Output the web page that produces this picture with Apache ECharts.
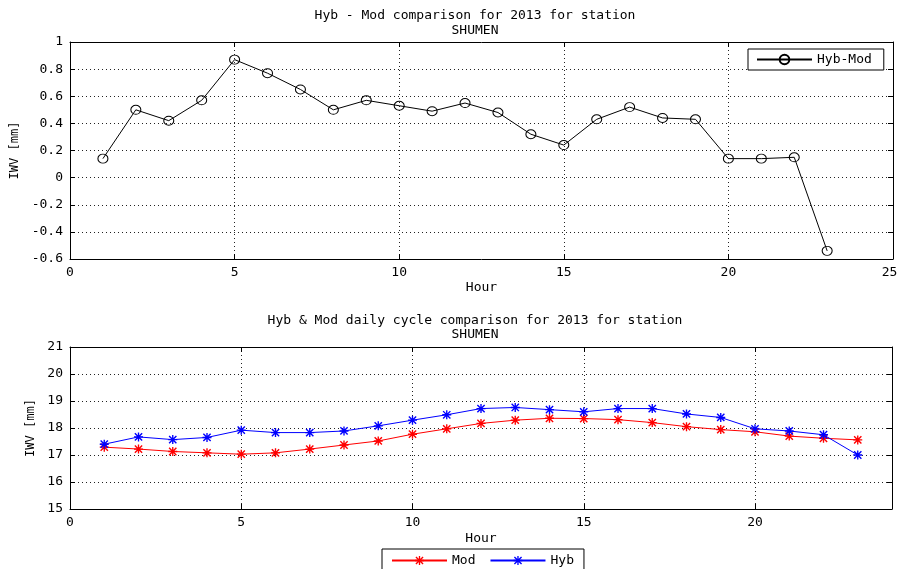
<!DOCTYPE html>
<html>
<head>
<meta charset="utf-8">
<script src="https://cdn.jsdelivr.net/npm/echarts@6/dist/echarts.min.js"></script>
<style>
  html, body { margin: 0; padding: 0; background: #fff; }
  #chart { width: 898px; height: 569px; }
</style>
</head>
<body>
<div id="chart"></div>
<script>
// ---- data ----
const hours = [1,2,3,4,5,6,7,8,9,10,11,12,13,14,15,16,17,18,19,20,21,22,23];
const hybMinusMod = [0.14,0.50,0.42,0.57,0.87,0.77,0.65,0.50,0.57,0.53,0.49,0.55,0.48,0.32,0.24,0.43,0.52,0.44,0.43,0.14,0.14,0.15,-0.54];
const modValues = [17.29,17.22,17.13,17.08,17.03,17.08,17.22,17.37,17.52,17.77,17.97,18.17,18.29,18.36,18.35,18.31,18.20,18.05,17.94,17.86,17.70,17.62,17.56];
const hybValues = [17.40,17.67,17.57,17.65,17.92,17.83,17.83,17.89,18.08,18.29,18.49,18.72,18.76,18.68,18.60,18.72,18.72,18.52,18.39,17.97,17.89,17.75,17.00];
const topTitle = 'Hyb - Mod comparison for 2013 for station\nSHUMEN';
const bottomTitle = 'Hyb & Mod daily cycle comparison for 2013 for station\nSHUMEN';
const xName = 'Hour';
const yName = 'IWV [mm]';

// ---- styling ----
const FONT = 'DejaVu Sans Mono';
const ASTERISK = 'path://M4.25,0L5.75,0L5.75,10L4.25,10Z M0,4.25L10,4.25L10,5.75L0,5.75Z M1.5,0.4L9.6,8.5L8.5,9.6L0.4,1.5Z M8.5,0.4L9.6,1.5L1.5,9.6L0.4,8.5Z';
const pair = (xs, ys) => xs.map((x, i) => [x, ys[i]]);

const gridLine = { show: true, lineStyle: { color: '#222', width: 1, type: [1, 3] } };
const axisLine = { show: true, onZero: false, lineStyle: { color: '#000', width: 1 } };
const tick = { show: true, inside: true, length: 5, lineStyle: { color: '#000' } };
const label = { color: '#000', fontFamily: FONT, fontSize: 13, margin: 7 };

function mainX(gridIndex, max, nameGap) {
  return {
    type: 'value', gridIndex, min: 0, max, interval: 5, position: 'bottom',
    name: xName, nameLocation: 'middle', nameGap,
    nameTextStyle: { color: '#000', fontFamily: FONT, fontSize: 13 },
    axisLine, axisTick: tick, splitLine: gridLine,
    axisLabel: Object.assign({
      showMaxLabel: max % 5 === 0,
      // the last label sits just inside the page edge, as in the reference
      formatter: v => (v === max ? '{m|' + v + '}' : String(v)),
      rich: { m: { fontFamily: FONT, fontSize: 13, color: '#000', padding: [0, 7, 0, 0] } }
    }, label)
  };
}
function mirrorX(gridIndex, max) {
  return {
    type: 'value', gridIndex, min: 0, max, interval: 5, position: 'top',
    axisLine, axisTick: tick, splitLine: { show: false }, axisLabel: { show: false }
  };
}
function mainY(gridIndex, min, max, interval, nameGap) {
  return {
    type: 'value', gridIndex, min, max, interval, position: 'left',
    name: yName, nameLocation: 'middle', nameGap,
    nameTextStyle: { color: '#000', fontFamily: FONT, fontSize: 12 },
    axisLine, axisTick: tick, splitLine: gridLine, axisLabel: label
  };
}
function mirrorY(gridIndex, min, max, interval) {
  return {
    type: 'value', gridIndex, min, max, interval, position: 'right',
    axisLine, axisTick: tick, splitLine: { show: false }, axisLabel: { show: false }
  };
}

const chart = echarts.init(document.getElementById('chart'), null, { renderer: 'canvas' });
chart.setOption({
  animation: false,
  backgroundColor: '#fff',
  textStyle: { fontFamily: FONT },
  title: [
    { text: topTitle, left: 475, top: 8, textAlign: 'center', padding: 0,
      textStyle: { fontFamily: FONT, fontSize: 13, fontWeight: 'normal', color: '#000', lineHeight: 15 } },
    { text: bottomTitle, left: 475, top: 314, textAlign: 'center', padding: 0,
      textStyle: { fontFamily: FONT, fontSize: 13, fontWeight: 'normal', color: '#000', lineHeight: 14 } }
  ],
  grid: [
    { left: 70, top: 42, width: 823, height: 217, containLabel: false, outerBoundsMode: 'none' },
    { left: 70, top: 347, width: 822, height: 162, containLabel: false, outerBoundsMode: 'none' }
  ],
  xAxis: [
    mainX(0, 25, 22),
    mirrorX(0, 25),
    mainX(1, 24, 23),
    mirrorX(1, 24)
  ],
  yAxis: [
    mainY(0, -0.6, 1, 0.2, 48),
    mirrorY(0, -0.6, 1, 0.2),
    mainY(1, 15, 21, 1, 31),
    mirrorY(1, 15, 21, 1)
  ],
  legend: [
    { data: ['Hyb-Mod'], left: 748, top: 49, orient: 'horizontal',
      padding: [4, 12, 4, 8], itemWidth: 55, itemHeight: 12, itemGap: 10,
      borderColor: '#000', borderWidth: 1, backgroundColor: '#fff',
      textStyle: { fontFamily: FONT, fontSize: 13, color: '#000' } },
    { data: ['Mod', 'Hyb'], left: 382, top: 549, orient: 'horizontal',
      padding: [5, 10, 5, 9], itemWidth: 55, itemHeight: 11, itemGap: 14,
      borderColor: '#000', borderWidth: 1, backgroundColor: '#fff',
      textStyle: { fontFamily: FONT, fontSize: 13, color: '#000' } }
  ],
  series: [
    { name: 'Hyb-Mod', type: 'line', xAxisIndex: 0, yAxisIndex: 0,
      data: pair(hours, hybMinusMod),
      symbol: 'circle', symbolSize: [10, 9],
      lineStyle: { color: '#000', width: 1 },
      itemStyle: { color: 'rgba(255,255,255,0)', borderColor: '#000', borderWidth: 1 } },
    { name: 'Mod', type: 'line', xAxisIndex: 2, yAxisIndex: 2,
      data: pair(hours, modValues),
      symbol: ASTERISK, symbolSize: 9,
      lineStyle: { color: '#ff0000', width: 1 },
      itemStyle: { color: '#ff0000' } },
    { name: 'Hyb', type: 'line', xAxisIndex: 2, yAxisIndex: 2,
      data: pair(hours, hybValues),
      symbol: ASTERISK, symbolSize: 9,
      lineStyle: { color: '#0000ff', width: 1 },
      itemStyle: { color: '#0000ff' } }
  ]
});
</script>
</body>
</html>
